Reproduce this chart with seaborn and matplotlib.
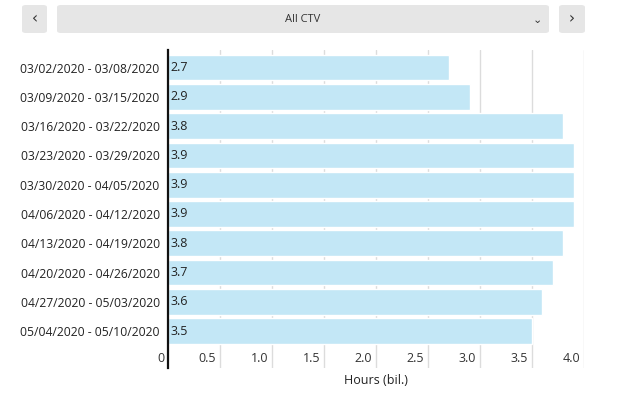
import matplotlib
matplotlib.use("Agg")
import matplotlib.pyplot as plt
import matplotlib.transforms as mtransforms
from matplotlib.patches import FancyBboxPatch
import seaborn as sns
import pandas as pd

# Weekly CTV viewing hours
weeks = [
    "03/02/2020 - 03/08/2020",
    "03/09/2020 - 03/15/2020",
    "03/16/2020 - 03/22/2020",
    "03/23/2020 - 03/29/2020",
    "03/30/2020 - 04/05/2020",
    "04/06/2020 - 04/12/2020",
    "04/13/2020 - 04/19/2020",
    "04/20/2020 - 04/26/2020",
    "04/27/2020 - 05/03/2020",
    "05/04/2020 - 05/10/2020",
]
hours = [2.7, 2.9, 3.8, 3.9, 3.9, 3.9, 3.8, 3.7, 3.6, 3.5]
x_ticks = [0, 0.5, 1.0, 1.5, 2.0, 2.5, 3.0, 3.5, 4.0]
x_tick_labels = ["0", "0.5", "1.0", "1.5", "2.0", "2.5", "3.0", "3.5", "4.0"]

df = pd.DataFrame({"week": weeks, "hours": hours})

sns.set_theme(style="white")
plt.rcParams["font.family"] = ["Open Sans", "DejaVu Sans"]

fig = plt.figure(figsize=(6.4, 3.94), dpi=100)
ax = fig.add_axes([168 / 640, 1 - 368 / 394, (584 - 168) / 640, (368 - 50) / 394])

# gridlines behind the bars
for t in x_ticks[1:]:
    ax.axvline(t, color="#dcdcdc", lw=1, zorder=0)

sns.barplot(data=df, y="week", x="hours", orient="h", color="#c3e7f6",
            width=0.88, saturation=1, ax=ax, zorder=2)

ax.set_xlim(0, 4.0)
ax.set_ylim(len(weeks) - 1 + 1.26, -0.6)

for i, v in enumerate(hours):
    ax.text(0.02, i, f"{v:.1f}", va="center", ha="left", fontsize=9,
            color="#222222", zorder=3)

# x tick labels sit inside the plot, left of each gridline
trans = mtransforms.blended_transform_factory(ax.transData, ax.transAxes)
off = mtransforms.offset_copy(trans, fig=fig, x=-4, y=0, units="dots")
for t, lab in zip(x_ticks, x_tick_labels):
    ax.text(t, (368 - 358) / (368 - 50), lab, transform=off, ha="right",
            va="center", fontsize=9, color="#333333")
ax.set_xticks([])
ax.set_xlabel("")
ax.set_ylabel("")
ax.tick_params(axis="y", length=0, pad=6, labelsize=8.7, labelcolor="#222222")

for s in ["top", "right", "bottom"]:
    ax.spines[s].set_visible(False)
ax.spines["left"].set_color("#111111")
ax.spines["left"].set_linewidth(1.6)
ax.spines["left"].set_zorder(4)

fig.text(376 / 640, 1 - 380 / 394, "Hours (bil.)", ha="center", va="center",
         fontsize=9, color="#222222")

# header controls
def add_box(x0, x1):
    box = FancyBboxPatch((x0 / 640, 1 - 33 / 394), (x1 - x0) / 640, 28 / 394,
                         boxstyle="round,pad=0,rounding_size=0.006",
                         transform=fig.transFigure, facecolor="#e6e6e6",
                         edgecolor="none")
    fig.patches.append(box)

add_box(22, 47)
add_box(57, 549)
add_box(559, 585)
fig.text(35 / 640, 1 - 19 / 394, "‹", ha="center", va="center", fontsize=11,
         color="#333333", family=["DejaVu Sans"])
fig.text(572 / 640, 1 - 19 / 394, "›", ha="center", va="center", fontsize=11,
         color="#333333", family=["DejaVu Sans"])
fig.text(303 / 640, 1 - 19 / 394, "All CTV", ha="center", va="center",
         fontsize=8, color="#333333")
fig.text(537 / 640, 1 - 20 / 394, "⌄", ha="center", va="center", fontsize=8,
         color="#333333", family=["DejaVu Sans"])

fig.savefig("out.png", dpi=100)
